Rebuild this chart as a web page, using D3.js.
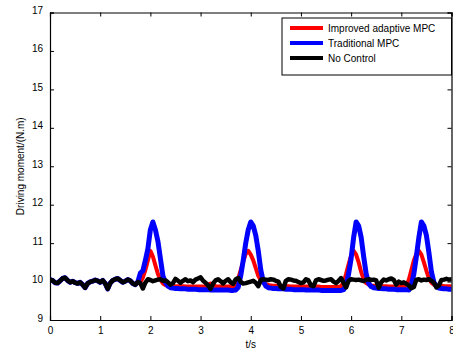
<!DOCTYPE html>
<html><head><meta charset="utf-8">
<script src="https://cdn.jsdelivr.net/npm/d3@7"></script>
<style>body{margin:0;background:#fff}svg{display:block;font-family:"Liberation Sans",Arial,sans-serif}</style>
</head><body><div id="chart"></div>
<script>
const seriesNames = ["Improved adaptive MPC", "Traditional MPC", "No Control"];
const seriesColors = ["#ff0000", "#0000ff", "#000000"];
const xTicks = [0,1,2,3,4,5,6,7,8];
const yTicks = [9,10,11,12,13,14,15,16,17];
const tStep = 0.05;

const noControl = [
10.05,10.03,9.97,9.96,10.02,10.08,10.10,10.03,9.98,10.01,
9.97,9.95,9.98,9.92,9.84,9.95,9.99,10.01,10.04,10.02,
9.98,10.03,9.95,9.81,9.96,10.03,10.06,10.08,10.03,9.98,
10.01,10.05,10.02,9.95,9.92,9.99,9.96,9.82,9.97,10.06,
10.04,10.01,10.03,10.05,10.06,10.02,10.03,9.98,9.92,9.96,
10.07,10.02,9.97,10.02,10.06,10.01,10.03,9.98,10.05,10.08,
10.11,10.02,9.97,9.90,9.81,9.95,10.03,10.06,10.01,9.95,
10.02,10.06,9.98,9.94,10.06,10.09,9.99,9.95,9.96,9.98,
10.00,10.02,9.97,9.88,10.04,10.06,10.05,10.04,10.06,10.05,
10.02,10.00,9.86,9.82,10.02,10.06,10.05,10.03,10.02,9.99,
9.96,9.98,10.06,10.03,9.90,9.88,10.03,10.06,10.04,10.02,
10.03,10.05,10.06,10.00,9.96,10.02,10.09,9.96,9.85,10.02,
10.06,10.05,10.04,10.05,10.03,10.01,10.05,10.06,10.04,10.05,
10.03,9.84,9.98,10.05,10.03,10.06,10.08,10.04,9.92,10.00,
9.96,9.98,9.94,9.90,9.83,9.86,10.05,10.06,10.03,10.05,
10.04,10.06,10.02,9.97,9.85,9.90,10.04,10.05,10.07,10.05,
10.06];

const traditional = [
10.05,10.03,9.97,9.96,10.02,10.08,10.10,10.03,9.98,10.01,
9.97,9.95,9.98,9.92,9.84,9.95,9.99,10.01,10.04,10.02,
9.98,10.03,9.95,9.81,9.96,10.03,10.06,10.08,10.03,9.98,
10.01,10.05,10.02,9.95,9.92,9.99,10.22,10.28,10.55,10.85,
11.35,11.55,11.35,11.05,10.6,10.15,9.98,9.88,9.84,9.83,
9.82,9.82,9.81,9.81,9.81,9.80,9.80,9.80,9.80,9.79,
9.79,9.79,9.79,9.79,9.78,9.78,9.78,9.78,9.78,9.78,
9.78,9.78,9.77,9.77,9.78,9.85,10.15,10.55,11.0,11.35,
11.55,11.45,11.2,10.8,10.3,10.0,9.88,9.84,9.83,9.82,
9.82,9.81,9.81,9.81,9.80,9.80,9.80,9.79,9.79,9.79,
9.79,9.79,9.78,9.78,9.78,9.78,9.78,9.78,9.77,9.77,
9.77,9.77,9.77,9.77,9.77,9.77,9.77,9.79,9.9,10.2,
10.6,11.15,11.55,11.45,11.15,10.65,10.2,9.95,9.87,9.84,
9.83,9.82,9.82,9.81,9.81,9.80,9.80,9.80,9.79,9.79,
9.79,9.79,9.79,9.78,9.9,10.2,10.65,11.15,11.55,11.45,
11.2,10.75,10.25,9.98,9.87,9.83,9.82,9.81,9.81,9.80,
9.80];

const improved = [
10.05,10.03,9.97,9.96,10.02,10.08,10.10,10.03,9.98,10.01,
9.97,9.95,9.98,9.92,9.84,9.95,9.99,10.01,10.04,10.02,
9.98,10.03,9.95,9.81,9.96,10.03,10.06,10.08,10.03,9.98,
10.01,10.05,10.02,9.95,9.92,9.97,9.98,10.1,10.3,10.55,
10.8,10.65,10.42,10.2,10.05,9.95,9.91,9.89,9.89,9.88,
9.88,9.88,9.88,9.88,9.87,9.87,9.87,9.87,9.87,9.87,
9.87,9.87,9.88,9.92,9.95,9.92,9.88,9.87,9.87,9.87,
9.87,9.87,9.87,9.87,9.92,10.08,10.3,10.52,10.72,10.8,
10.7,10.55,10.35,10.15,10.03,9.97,9.93,9.91,9.9,9.89,
9.89,9.88,9.88,9.88,9.88,9.88,9.87,9.87,9.87,9.87,
9.87,9.87,9.87,9.87,9.87,9.87,9.87,9.87,9.86,9.86,
9.86,9.86,9.86,9.86,9.86,9.86,9.88,9.98,10.2,10.45,
10.68,10.8,10.7,10.5,10.25,10.06,9.96,9.92,9.9,9.89,
9.89,9.88,9.88,9.88,9.88,9.87,9.87,9.87,9.87,9.87,
9.87,9.87,9.9,10.05,10.3,10.55,10.72,10.8,10.7,10.5,
10.28,10.08,9.97,9.92,9.9,9.89,9.89,9.88,9.88,9.88,
9.88];

const W = 453, H = 350;
const L = 50, R = 451.5, T = 12.5, B = 320;
const svg = d3.select("#chart").append("svg").attr("width", W).attr("height", H);
const x = d3.scaleLinear().domain([0, 8]).range([L, R]);
const y = d3.scaleLinear().domain([9, 17]).range([B, T]);

svg.append("clipPath").attr("id","clip").append("rect")
  .attr("x", L).attr("y", T).attr("width", R - L).attr("height", B - T);

const line = d3.line().x((d, i) => x(i * tStep)).y(d => y(d));
const data = [improved, traditional, noControl];
const widths = [4, 5, 4.5];
const g = svg.append("g").attr("clip-path", "url(#clip)");
data.forEach((s, k) => {
  g.append("path").datum(s).attr("d", line)
    .attr("fill", "none").attr("stroke", seriesColors[k])
    .attr("stroke-width", widths[k]).attr("stroke-linejoin", "round").attr("stroke-linecap", "round");
});

const fs = "10px";
const ax = svg.append("g").attr("transform", `translate(0,${B})`)
  .call(d3.axisBottom(x).tickValues(xTicks).tickSize(-4).tickPadding(7).tickFormat(d3.format("d")));
const axT = svg.append("g").attr("transform", `translate(0,${T})`)
  .call(d3.axisTop(x).tickValues(xTicks).tickSize(-4).tickFormat(""));
const ay = svg.append("g").attr("transform", `translate(${L},0)`)
  .call(d3.axisLeft(y).tickValues(yTicks).tickSize(-4).tickPadding(7).tickFormat(d3.format("d")));
const ayR = svg.append("g").attr("transform", `translate(${R},0)`)
  .call(d3.axisRight(y).tickValues(yTicks).tickSize(-4).tickFormat(""));
[ax, axT, ay, ayR].forEach(a => {
  a.select(".domain").attr("stroke", "#000").attr("stroke-width", 1.2);
  a.selectAll(".tick line").attr("stroke", "#000");
  a.selectAll("text").attr("font-size", fs).attr("fill", "#000").attr("font-family", "Liberation Sans, Arial, sans-serif");
});
ay.selectAll("text").attr("dy", "0.1em");
ax.selectAll("text").attr("dy", "0.71em");

svg.append("text").attr("x", x(4)).attr("y", 348).attr("text-anchor", "middle")
  .attr("font-size", fs).text("t/s");
svg.append("text").attr("transform", `translate(24,${(T + B) / 2}) rotate(-90)`)
  .attr("text-anchor", "middle").attr("font-size", fs).text("Driving moment/(N.m)");

const lg = svg.append("g");
lg.append("rect").attr("x", 282).attr("y", 18).attr("width", R - 282).attr("height", 57)
  .attr("fill", "#fff").attr("stroke", "#000").attr("stroke-width", 1);
seriesNames.forEach((n, k) => {
  const yy = 28 + k * 15;
  lg.append("line").attr("x1", 290).attr("x2", 323).attr("y1", yy).attr("y2", yy)
    .attr("stroke", seriesColors[k]).attr("stroke-width", 4);
  lg.append("text").attr("x", 328).attr("y", yy).attr("dy", "0.35em").attr("font-size", fs).text(n);
});
</script></body></html>
